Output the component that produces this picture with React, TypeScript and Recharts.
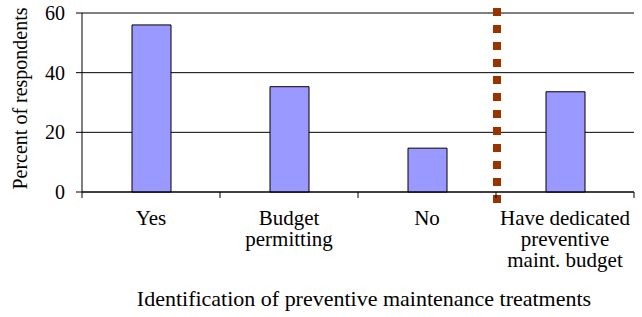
import React from "react";
import {
  BarChart,
  Bar,
  XAxis,
  YAxis,
  CartesianGrid,
  ReferenceLine,
} from "recharts";

const categories = ["Yes", "Budget permitting", "No", "Have dedicated preventive maint. budget"];
const tickLabelLines = [["Yes"], ["Budget", "permitting"], ["No"], ["Have dedicated", "preventive", "maint. budget"]];
const percentValues = [56, 35.3, 14.7, 33.6];
const yTicks = [0, 20, 40, 60];

const data = categories.map((name, i) => ({ name, value: percentValues[i] }));

const W = 642;
const H = 317;
const margin = { top: 13, right: 8, left: 0, bottom: 0 };
const yAxisW = 82;
const bandW = (W - margin.left - margin.right - yAxisW) / categories.length;
const font = "Liberation Serif, Times New Roman, serif";
const textStyle = { fontFamily: font };

// the original text is a little wider than Times at this height
const stretch = (cx: number, sx: number) => `matrix(${sx},0,0,1,${cx * (1 - sx)},0)`;

function CategoryTick(props: any) {
  const { x, y, payload, index } = props;
  const lines = tickLabelLines[index] || [payload.value];
  const isLast = index === categories.length - 1;
  return (
    <g>
      <line x1={x - bandW / 2} y1={y} x2={x - bandW / 2} y2={y + 6} stroke="#000" />
      {isLast && <line x1={x + bandW / 2} y1={y} x2={x + bandW / 2} y2={y + 6} stroke="#000" />}
      <text
        x={x}
        textAnchor="middle"
        style={textStyle}
        fontSize={20}
        fill="#000"
        transform={stretch(x, 1.05)}
      >
        {lines.map((l: string, i: number) => (
          <tspan key={i} x={x} y={y + 33 + i * 21}>
            {l}
          </tspan>
        ))}
      </text>
    </g>
  );
}

function DottedDivider(props: any) {
  const { x1, y1, y2 } = props;
  const top = Math.min(y1, y2) - 5;
  const bottom = Math.max(y1, y2) + 11;
  return (
    <line
      x1={x1 + 1}
      y1={top}
      x2={x1 + 1}
      y2={bottom}
      stroke="#993300"
      strokeWidth={8}
      strokeDasharray="8 9"
    />
  );
}

export default function App() {
  return (
    <div style={{ position: "absolute", left: 0, top: 0, width: W, height: H, background: "#fff" }}>
      <BarChart width={W} height={H} data={data} margin={margin}>
        <CartesianGrid vertical={false} stroke="#000" strokeOpacity={1} />
        <XAxis
          dataKey="name"
          axisLine={{ stroke: "#000" }}
          tickLine={false}
          tickSize={0}
          tickMargin={0}
          height={H - 192 - margin.bottom}
          interval={0}
          tick={<CategoryTick />}
          label={(p: any) => {
            const vb = p.viewBox;
            const cx = vb.x + vb.width / 2 + 6;
            return (
              <text
                x={cx}
                y={vb.y + vb.height - 11}
                textAnchor="middle"
                style={textStyle}
                fontSize={20}
                fill="#000"
                transform={stretch(cx, 1.1)}
              >
                Identification of preventive maintenance treatments
              </text>
            );
          }}
        />
        <YAxis
          width={yAxisW}
          domain={[0, 60]}
          ticks={yTicks}
          axisLine={{ stroke: "#000" }}
          tickLine={{ stroke: "#000" }}
          tickSize={6}
          tickMargin={11}
          tick={{ fill: "#000", fontSize: 20, style: textStyle }}
          label={(p: any) => {
            const vb = p.viewBox;
            const cy = vb.y + vb.height / 2 - 4;
            return (
              <text
                x={27}
                y={cy}
                transform={`rotate(-90 27 ${cy})`}
                textAnchor="middle"
                style={textStyle}
                fontSize={20}
                fill="#000"
              >
                Percent of respondents
              </text>
            );
          }}
        />
        <YAxis
          yAxisId="right"
          orientation="right"
          width={0}
          domain={[0, 60]}
          axisLine={{ stroke: "#000" }}
          tick={false}
          tickLine={false}
        />
        <Bar
          dataKey="value"
          fill="#9999FF"
          stroke="#000"
          strokeWidth={1}
          barSize={39}
          isAnimationActive={false}
        />
        <ReferenceLine
          x={categories[3]}
          position="start"
          ifOverflow="visible"
          shape={<DottedDivider />}
        />
      </BarChart>
    </div>
  );
}
